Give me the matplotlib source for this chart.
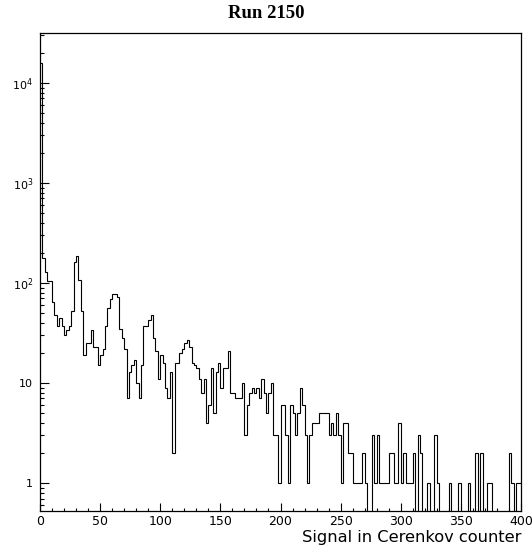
import numpy as np
import matplotlib
matplotlib.use("Agg")
import matplotlib.pyplot as plt
from matplotlib.ticker import FixedLocator, FixedFormatter, MultipleLocator

# histogram: 200 bins of width 2 between 0 and 400
edges = np.arange(0, 402, 2)
counts = [
    16000, 178, 128, 105, 105, 65, 48, 37, 45, 37,
    30, 34, 37, 52, 163, 187, 107, 52, 19, 25,
    25, 34, 23, 23, 15, 19, 22, 37, 56, 69,
    78, 78, 73, 35, 28, 22, 7, 13, 15, 17,
    10, 7, 15, 37, 37, 43, 48, 28, 21, 11,
    19, 16, 9, 7, 13, 2, 16, 16, 20, 22,
    25, 27, 23, 16, 15, 14, 11, 8, 11, 4,
    6, 14, 5, 13, 16, 9, 14, 14, 21, 8,
    8, 7, 7, 7, 10, 3, 6, 8, 9, 8,
    9, 7, 11, 8, 5, 8, 10, 3, 3, 1,
    6, 6, 3, 1, 6, 5, 3, 5, 9, 6,
    3, 1, 3, 4, 4, 4, 5, 5, 5, 5,
    3, 4, 3, 5, 3, 1, 4, 4, 2, 2,
    1, 1, 1, 1, 2, 1, 0, 0, 3, 1,
    3, 1, 1, 1, 1, 2, 2, 1, 1, 4,
    1, 2, 1, 1, 1, 2, 0, 3, 2, 0,
    0, 1, 0, 0, 3, 1, 0, 0, 0, 0,
    1, 0, 0, 0, 1, 0, 0, 0, 1, 0,
    0, 2, 0, 2, 0, 0, 1, 1, 0, 0,
    0, 0, 0, 0, 0, 2, 1, 0, 1, 1,
]
counts = np.array(counts, dtype=float)

ytick_vals = [1, 10, 100, 1000, 10000]
ytick_labels = ['1', '10', r'10$^2$', r'10$^3$', r'10$^4$']

fig = plt.figure(figsize=(5.32, 5.54), dpi=100)
ax = fig.add_axes([40/532, 1-511/554, 481/532, 478/554])

ax.stairs(counts, edges, color='black', linewidth=0.8, baseline=None)

ax.set_yscale('log')
ax.set_xlim(0, 400)
ax.set_ylim(0.525, 31600)

ax.yaxis.set_major_locator(FixedLocator(ytick_vals))
ax.yaxis.set_major_formatter(FixedFormatter(ytick_labels))
minors = [m*d for d in [0.1, 1, 10, 100, 1000, 10000] for m in range(2, 10)]
ax.yaxis.set_minor_locator(FixedLocator(minors))
ax.yaxis.set_minor_formatter(FixedFormatter([]))

ax.xaxis.set_major_locator(MultipleLocator(50))
ax.xaxis.set_minor_locator(MultipleLocator(10))

ax.tick_params(axis='both', which='both', direction='in', top=False, right=False,
               labelsize=8, width=0.8)
ax.tick_params(axis='x', which='major', length=5.5, pad=3, labelsize=9)
ax.tick_params(axis='x', which='minor', length=2.2)
ax.tick_params(axis='y', which='major', length=6.5, pad=5)
ax.tick_params(axis='y', which='minor', length=2.8)

for s in ax.spines.values():
    s.set_linewidth(0.9)

ax.set_xlabel('Signal in Cerenkov counter', fontsize=11.7, loc='right', labelpad=1)
fig.text(0.5, 0.975, 'Run 2150', ha='center', va='center', fontsize=13.5,
         fontweight='bold', family='Liberation Serif')

fig.savefig('out.png', dpi=100)
